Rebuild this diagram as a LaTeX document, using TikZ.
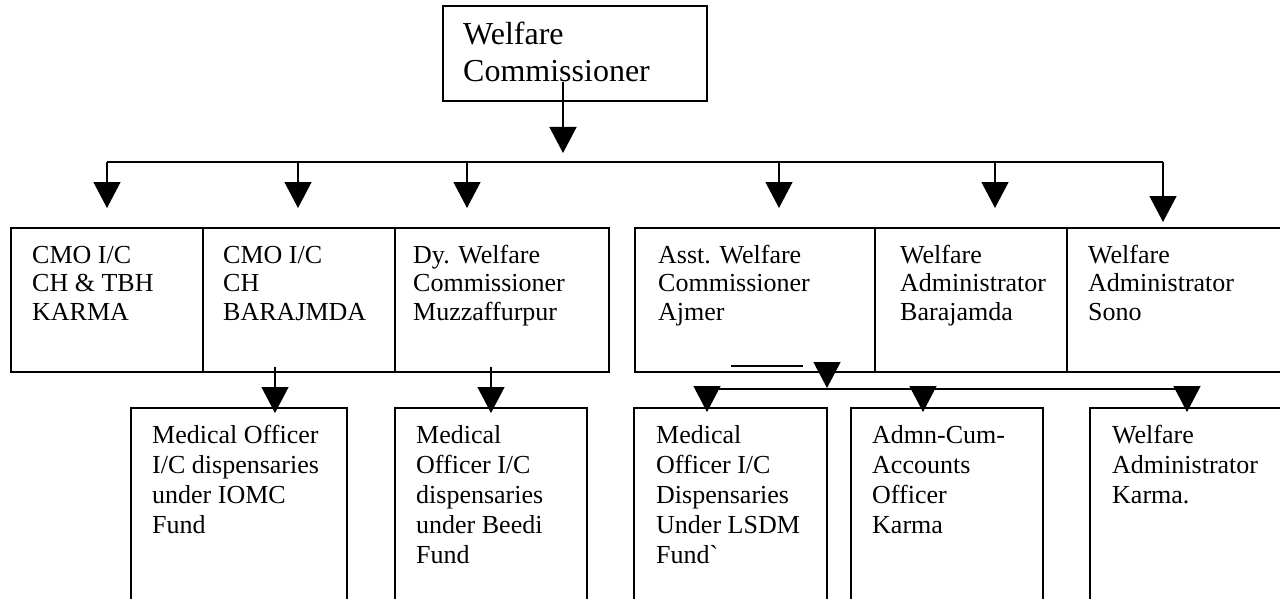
\documentclass[tikz,border=0pt]{standalone}
\usepackage{fontspec}
\setmainfont{Liberation Serif}
\usetikzlibrary{arrows.meta}
\newcommand\mylines[1]{\parbox[t]{300pt}{\raggedright #1}}
\begin{document}
\begin{tikzpicture}[x=1pt,y=-1pt,
  box/.style={draw, line width=1.4pt, rectangle, inner sep=0pt, outer sep=0pt},
  link/.style={line width=1.4pt},
  arr/.style={line width=1.4pt, -{Triangle[width=27pt,length=26pt]}},
  txtM/.style={anchor=base west, inner sep=0pt, font=\fontsize{26}{28.5}\selectfont},
  txtB/.style={anchor=base west, inner sep=0pt, font=\fontsize{26}{30}\selectfont},
  txtT/.style={anchor=base west, inner sep=0pt, font=\fontsize{32}{37}\selectfont}]
\fill[white] (0,0) rectangle (1280,599);
\useasboundingbox (0,0) rectangle (1280,599);
\clip (0,0) rectangle (1280,599);

% top box
\node[box, minimum width=264pt, minimum height=95pt] (wc) at (575,53.5) {};
\node[txtT] (wct) at (463,45) {\mylines{Welfare\\Commissioner}};

% middle row
\node[box, minimum width=192pt, minimum height=144pt] (c1) at (107,300) {};
\node[box, minimum width=192pt, minimum height=144pt] (c2) at (299,300) {};
\node[box, minimum width=214pt, minimum height=144pt] (c3) at (502,300) {};
\node[box, minimum width=240pt, minimum height=144pt] (c4) at (755,300) {};
\node[box, minimum width=192pt, minimum height=144pt] (c5) at (971,300) {};
\node[box, minimum width=214pt, minimum height=144pt] (c6) at (1174,300) {};

\node[txtM] (c1t) at (32,263) {\mylines{CMO I/C\\CH \& TBH\\KARMA}};
\node[txtM] (c2t) at (223,263) {\mylines{CMO I/C\\CH\\BARAJMDA}};
\node[txtM] (c3t) at (413,263) {\mylines{Dy. Welfare\\Commissioner\\Muzzaffurpur}};
\node[txtM] (c4t) at (658,263) {\mylines{Asst. Welfare\\Commissioner\\Ajmer}};
\node[txtM] (c5t) at (900,263) {\mylines{Welfare\\Administrator\\Barajamda}};
\node[txtM] (c6t) at (1088,263) {\mylines{Welfare\\Administrator\\Sono}};

% bottom row
\node[box, minimum width=216pt, minimum height=212pt] (b1) at (239,514) {};
\node[box, minimum width=192pt, minimum height=212pt] (b2) at (491,514) {};
\node[box, minimum width=193pt, minimum height=212pt] (b3) at (730.5,514) {};
\node[box, minimum width=192pt, minimum height=212pt] (b4) at (947,514) {};
\node[box, minimum width=210pt, minimum height=212pt] (b5) at (1195,514) {};

\node[txtB] (b1t) at (152,443) {\mylines{Medical Officer\\I/C dispensaries\\under IOMC\\Fund}};
\node[txtB] (b2t) at (416,443) {\mylines{Medical\\Officer I/C\\dispensaries\\under Beedi\\Fund}};
\node[txtB] (b3t) at (656,443) {\mylines{Medical\\Officer I/C\\Dispensaries\\Under LSDM\\Fund\textasciigrave}};
\node[txtB] (b4t) at (872,443) {\mylines{Admn-Cum-\\Accounts\\Officer\\Karma}};
\node[txtB] (b5t) at (1112,443) {\mylines{Welfare\\Administrator\\Karma.}};

% top connectors
\coordinate (wcOut) at (563,82);
\coordinate (wcTip) at (563,153);
\draw[arr] (wcOut) -- (wcTip);
\coordinate (busL) at (107,162);
\coordinate (busR) at (1163,162);
\draw[link] (busL) -- (busR);
\coordinate (d1) at (107,162);  \coordinate (e1) at (107,208);
\coordinate (d2) at (298,162);  \coordinate (e2) at (298,208);
\coordinate (d3) at (467,162);  \coordinate (e3) at (467,208);
\coordinate (d4) at (779,162);  \coordinate (e4) at (779,208);
\coordinate (d5) at (995,162);  \coordinate (e5) at (995,208);
\coordinate (d6) at (1163,162); \coordinate (e6) at (1163,222);
\foreach \i in {1,...,6} { \draw[arr] (d\i) -- (e\i); }

% bottom-left connectors
\coordinate (f1) at (275,367); \coordinate (g1) at (275,413);
\coordinate (f2) at (491,367); \coordinate (g2) at (491,413);
\draw[arr] (f1) -- (g1);
\draw[arr] (f2) -- (g2);

% bottom-right connectors
\coordinate (mid) at (827,362); \coordinate (midTip) at (827,388);
\draw[arr] (mid) -- (midTip);
\coordinate (bus2L) at (707,389);
\coordinate (bus2R) at (1187,389);
\draw[link] (bus2L) -- (bus2R);
\coordinate (h1) at (707,386);  \coordinate (k1) at (707,412);
\coordinate (h2) at (923,386);  \coordinate (k2) at (923,412);
\coordinate (h3) at (1187,386); \coordinate (k3) at (1187,412);
\foreach \i in {1,2,3} { \draw[arr] (h\i) -- (k\i); }

% stray short line
\coordinate (s1) at (731,366); \coordinate (s2) at (803,366);
\draw[link] (s1) -- (s2);
\end{tikzpicture}
\end{document}
